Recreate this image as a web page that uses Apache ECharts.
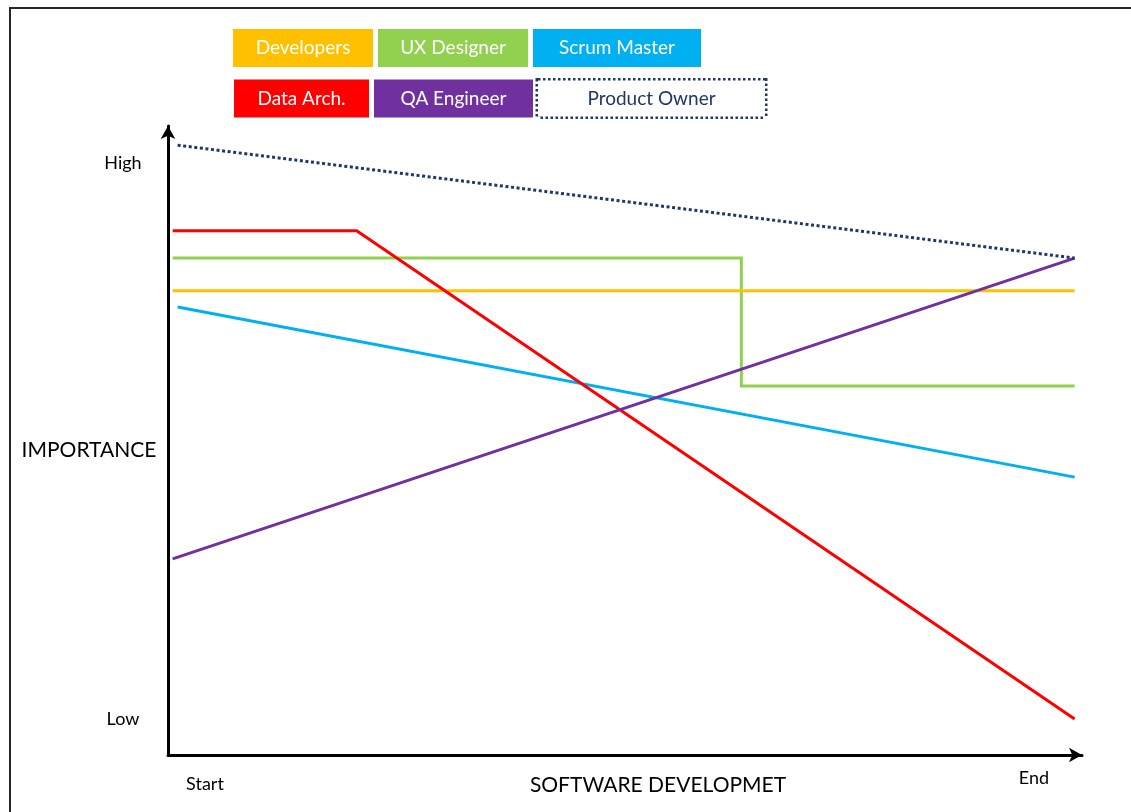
<!DOCTYPE html>
<html>
<head>
<meta charset="utf-8">
<script src="https://cdn.jsdelivr.net/npm/echarts@6/dist/echarts.min.js"></script>
<style>
html,body{margin:0;padding:0;background:#fff;}
#chart{width:1131px;height:812px;}
</style>
</head>
<body>
<div id="chart"></div>
<script>
// ---- data ----
const seriesNames = ['Developers', 'UX Designer', 'Scrum Master', 'Data Arch.', 'QA Engineer', 'Product Owner'];
const legendRow1 = ['Developers', 'UX Designer', 'Scrum Master'];
const legendRow2 = ['Data Arch.', 'QA Engineer', 'Product Owner'];
// x: 0 = Start, 100 = End ; y: 0 = Low, 100 = High
const xTickValues = [0, 100];
const xTickLabels = ['Start', 'End'];
const yTickValues = [0, 100];
const yTickLabels = ['Low', 'High'];
const developers   = [[-3.9, 77.0], [104.9, 77.0]];
const uxDesigner   = [[-3.9, 82.9], [64.7, 82.9], [64.7, 59.9], [104.9, 59.9]];
const scrumMaster  = [[-3.3, 74.1], [104.9, 43.5]];
const dataArch     = [[-3.9, 87.8], [18.3, 87.8], [104.9, 0.0]];
const qaEngineer   = [[-3.9, 28.8], [104.9, 82.9]];
const productOwner = [[-3.3, 103.2], [104.9, 82.9]];

// ---- styles ----
const colors = {
  'Developers': '#FFC000',
  'UX Designer': '#92D050',
  'Scrum Master': '#00B0F0',
  'Data Arch.': '#FF0000',
  'QA Engineer': '#7030A0',
  'Product Owner': '#1F3864'
};
const boxWidths = {
  'Developers': 140, 'UX Designer': 150, 'Scrum Master': 168,
  'Data Arch.': 135, 'QA Engineer': 159, 'Product Owner': 227
};
const FONT = 'Lato';
const rich = {};
seriesNames.forEach((n, i) => {
  const po = n === 'Product Owner';
  rich['k' + i] = {
    width: boxWidths[n],
    height: po ? 36 : 38,
    lineHeight: po ? 36 : 38,
    align: 'center',
    verticalAlign: 'middle',
    fontFamily: FONT,
    fontSize: 19,
    color: po ? '#1F3864' : '#ffffff',
    backgroundColor: po ? '#ffffff' : colors[n],
    borderColor: po ? '#1F3864' : 'transparent',
    borderWidth: po ? 2.5 : 0,
    borderType: po ? [2.5, 2.5] : 'solid'
  };
});
function legendCfg(names, left, top) {
  return {
    data: names,
    left: left, top: top,
    orient: 'horizontal',
    padding: 0,
    itemGap: 0,
    itemWidth: 0, itemHeight: 0,
    icon: 'rect',
    selectedMode: false,
    formatter: n => '{k' + seriesNames.indexOf(n) + '|' + n + '}',
    textStyle: { rich: rich, padding: 0 }
  };
}
const dataMap = {
  'Developers': developers, 'UX Designer': uxDesigner, 'Scrum Master': scrumMaster,
  'Data Arch.': dataArch, 'QA Engineer': qaEngineer, 'Product Owner': productOwner
};
const drawOrder = ['UX Designer', 'Developers', 'Scrum Master', 'Data Arch.', 'QA Engineer', 'Product Owner'];
const series = drawOrder.map((n, i) => ({
  name: n,
  type: 'line',
  data: dataMap[n],
  symbol: 'none',
  z: 2 + i,
  itemStyle: { color: colors[n] },
  lineStyle: {
    color: colors[n],
    width: 3,
    type: n === 'Product Owner' ? [3, 2.6] : 'solid',
    cap: 'butt',
    join: 'miter'
  },
  emphasis: { disabled: true },
  silent: true
}));

const chart = echarts.init(document.getElementById('chart'), null, { renderer: 'canvas' });
chart.setOption({
  animation: false,
  backgroundColor: '#ffffff',
  textStyle: { fontFamily: FONT },
  legend: [legendCfg(legendRow1, 228, 29), legendCfg(legendRow2, 229, 78)],
  grid: { left: 168, right: 49, top: 126, bottom: 57, containLabel: false, outerBoundsMode: 'none' },
  xAxis: {
    type: 'value',
    min: -4.46, max: 105.79,
    splitLine: { show: false },
    axisTick: { show: false },
    axisLine: {
      show: true, onZero: false,
      lineStyle: { color: '#000', width: 3 },
      symbol: ['none', 'arrow'],
      symbolSize: [11, 13],
      symbolOffset: [0, 0]
    },
    axisLabel: {
      customValues: xTickValues,
      formatter: v => (v === xTickValues[0] ? '{s|' + xTickLabels[0] + '}' : '{e|' + xTickLabels[1] + '}'),
      margin: 12,
      color: '#000',
      fontFamily: FONT,
      fontSize: 18,
      rich: {
        s: { fontFamily: FONT, fontSize: 18, color: '#000', padding: [8, 0, 0, 0] },
        e: { fontFamily: FONT, fontSize: 18, color: '#000', padding: [2, 0, 0, 0] }
      }
    },
    name: 'SOFTWARE DEVELOPMET',
    nameLocation: 'middle',
    nameMoveOverlap: false,
    nameGap: 30,
    nameTextStyle: {
      color: '#000', fontFamily: FONT, fontSize: 21,
      align: 'center', verticalAlign: 'middle',
      padding: [0, 0, 0, 66]
    }
  },
  yAxis: {
    type: 'value',
    min: -6.47, max: 106.65,
    splitLine: { show: false },
    axisTick: { show: false },
    axisLine: {
      show: true, onZero: false,
      lineStyle: { color: '#000', width: 3 },
      symbol: ['none', 'arrow'],
      symbolSize: [11, 13],
      symbolOffset: [0, 0]
    },
    axisLabel: {
      customValues: yTickValues,
      formatter: v => (v === yTickValues[0] ? yTickLabels[0] : yTickLabels[1]),
      margin: 45,
      align: 'center',
      color: '#000',
      fontFamily: FONT,
      fontSize: 18
    },
    name: 'IMPORTANCE',
    nameLocation: 'middle',
    nameMoveOverlap: false,
    nameRotate: 0,
    nameGap: 79,
    nameTextStyle: {
      color: '#000', fontFamily: FONT, fontSize: 21,
      align: 'center', verticalAlign: 'top',
      lineHeight: 19
    }
  },
  graphic: [{
    type: 'rect',
    silent: true,
    z: -1,
    shape: { x: 10, y: 8, width: 1400, height: 1000 },
    style: { fill: 'none', stroke: '#262626', lineWidth: 2 }
  }],
  series: series
});
</script>
</body>
</html>
